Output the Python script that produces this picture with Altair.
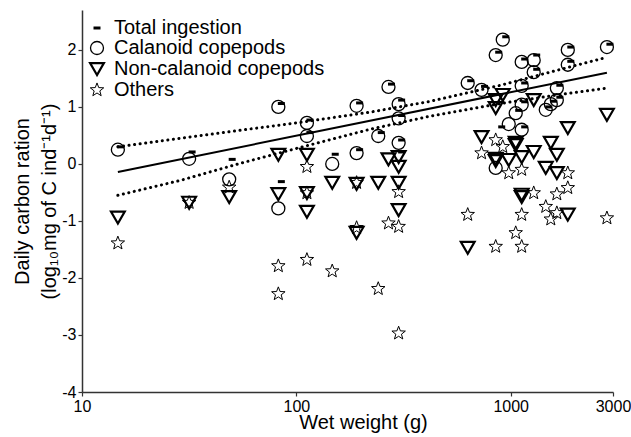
import altair as alt
import pandas as pd

# ---- data ----
groups = ["Total ingestion", "Calanoid copepods", "Non-calanoid copepods", "Others"]

tot_w = [14.7, 31.6, 48.6, 82.4, 82.4, 112, 112, 147, 191, 191, 241, 269, 300, 300, 300, 300, 630, 731, 879, 851,
         918, 1055, 1125, 1125, 1125, 1125, 1280, 1280, 1457, 1538, 1641, 1641, 1846, 1846, 2810]
tot_v = [0.30, 0.21, 0.08, 1.06, -0.31, 0.77, 0.55, 0.17, 1.07, 0.25, 0.55, 1.40, 1.12, 0.85, 0.42, 0.21, 1.46, 1.36, 0.65, 1.96,
         2.23, 0.94, 1.84, 1.42, 1.09, 0.65, 1.91, 1.66, 1.00, 1.10, 1.38, 1.17, 2.05, 1.80, 2.10]

cal_w = [14.7, 31.6, 48.6, 82.4, 82.4, 112, 112, 147, 191, 191, 241, 269, 300, 300, 300, 630, 731, 851, 851, 918,
         979, 1055, 1125, 1125, 1125, 1125, 1280, 1280, 1457, 1538, 1641, 1641, 1846, 1846, 2810]
cal_v = [0.25, 0.09, -0.27, 1.00, -0.78, 0.72, 0.49, 0.00, 1.02, 0.19, 0.49, 1.35, 1.05, 0.80, 0.37, 1.42, 1.30, 1.91, -0.07, 2.18,
         0.70, 0.89, 1.79, 1.37, 1.04, 0.60, 1.82, 1.61, 0.95, 1.05, 1.33, 1.12, 2.00, 1.74, 2.05]

non_w = [14.7, 31.6, 48.6, 82.4, 82.4, 112, 112, 112, 147, 191, 191, 241, 269, 300, 300, 300, 300, 630, 731, 851,
         851, 851, 851, 918, 979, 1055, 1055, 1125, 1125, 1125, 1280, 1280, 1457, 1538, 1641, 1641, 1846, 1846, 2810]
non_v = [-0.94, -0.68, -0.58, 0.16, -0.53, 0.16, -0.51, -0.84, -0.33, -0.35, -1.21, -0.33, 0.08, 0.12, -0.05, -0.33, -0.81, -1.47, 0.47, 1.12,
         0.98, 0.09, 0.05, 1.21, 0.07, 0.37, 0.33, 0.12, -0.54, -0.58, 1.12, 0.21, -0.07, 0.37, 0.16, -0.16, 0.63, -0.89, 0.86]

oth_w = [14.7, 31.6, 48.6, 82.4, 82.4, 112, 112, 112, 147, 191, 191, 241, 269, 300, 300, 300, 630, 731, 851, 851,
         918, 979, 1055, 1125, 1125, 1125, 1280, 1457, 1538, 1641, 1641, 1846, 1846, 2810]
oth_v = [-1.39, -0.68, -0.41, -1.79, -2.28, -0.05, -0.51, -1.68, -1.88, -0.33, -1.12, -2.19, -1.04, -0.49, -1.10, -2.97, -0.89, 0.19, 0.42, -1.45,
         0.30, -0.16, -1.21, -0.10, -0.89, -1.45, -0.51, -0.75, -0.97, -0.86, -0.53, -0.42, -0.16, -0.95]

fit_w = [14.7, 2810]
fit_v = [-0.14, 1.60]
band_w = [14.7, 28.7, 54.7, 104.5, 222, 423, 897, 1714, 2810]
band_hi = [0.30, 0.45, 0.59, 0.73, 0.91, 1.10, 1.38, 1.66, 1.87]
band_lo = [-0.55, -0.29, 0.01, 0.29, 0.61, 0.84, 1.06, 1.22, 1.33]

y_ticks = [-4, -3, -2, -1, 0, 1, 2]
x_ticks = [10, 100, 1000, 3000]

# ---- tables ----
pts = pd.concat([
    pd.DataFrame({"w": cal_w, "v": cal_v, "group": groups[1]}),
    pd.DataFrame({"w": non_w, "v": non_v, "group": groups[2]}),
    pd.DataFrame({"w": oth_w, "v": oth_v, "group": groups[3]}),
], ignore_index=True)
tot = pd.DataFrame({"w": tot_w, "v": tot_v, "group": groups[0]})
fit = pd.DataFrame({"w": fit_w, "v": fit_v})
band = pd.concat([
    pd.DataFrame({"w": band_w, "v": band_hi, "side": "upper"}),
    pd.DataFrame({"w": band_w, "v": band_lo, "side": "lower"}),
], ignore_index=True)

FONT = "Liberation Sans"
STAR = ("M0,-1L0.247,-0.34L0.951,-0.309L0.399,0.13L0.588,0.809L0,0.42L-0.588,0.809"
        "L-0.399,0.13L-0.951,-0.309L-0.247,-0.34Z")
shape_range = ["stroke", "circle", "triangle-down", STAR]
size_range = [49, 169, 190, 200]
sw_range = [3, 1.3, 2.2, 1.0]

xscale = alt.Scale(type="log", domain=[10, 3000], nice=False)
yscale = alt.Scale(domain=[-4, 2.7], nice=False, zero=False)

xenc = alt.X("w:Q", scale=xscale, axis=alt.Axis(
    values=x_ticks, labelExpr="'' + datum.value", title="Wet weight (g)",
    labelFlush=False, labelOverlap=False, titleX=281, titleY=30, titleBaseline="middle"))
yenc = alt.Y("v:Q", scale=yscale, axis=alt.Axis(
    values=y_ticks, labelExpr="'' + datum.value",
    title=["Daily carbon ration", "(log\u2081\u2080mg of C ind\u207b\u00b9d\u207b\u00b9)"],
    titlePadding=2, titleLineHeight=27))

legend = alt.Legend(title=None, orient="none", legendX=5, legendY=8,
                    labelFont=FONT, labelFontSize=20, labelColor="black", labelLimit=400,
                    rowPadding=0, labelOffset=7, padding=0, symbolStrokeColor="black")
shape_enc = alt.Shape("group:N", scale=alt.Scale(domain=groups, range=shape_range), legend=legend)
size_enc = alt.Size("group:N", scale=alt.Scale(type="ordinal", domain=groups, range=size_range), legend=legend)
sw_enc = alt.StrokeWidth("group:N", scale=alt.Scale(type="ordinal", domain=groups, range=sw_range), legend=legend)

points = alt.Chart(pts).mark_point(filled=False, color="black", opacity=1).encode(
    x=xenc, y=yenc, shape=shape_enc, size=size_enc, strokeWidth=sw_enc)
dashes = alt.Chart(tot).mark_point(filled=False, color="black", opacity=1, xOffset=3).encode(
    x=xenc, y=yenc, shape=shape_enc, size=size_enc, strokeWidth=sw_enc)

fit_line = alt.Chart(fit).mark_line(color="black", strokeWidth=2).encode(x=xenc, y=yenc)
band_lines = alt.Chart(band).mark_line(color="black", strokeWidth=3, strokeDash=[0.1, 5.5],
                                       strokeCap="round").encode(x=xenc, y=yenc, detail="side:N")

chart = alt.layer(fit_line, band_lines, dashes, points).properties(
    width=531, height=382,
    autosize=alt.AutoSizeParams(type="none"),
    padding={"left": 82, "top": 10, "right": 18, "bottom": 45},
    background="white",
).configure_view(stroke=None).configure_axis(
    grid=False, domainColor="#333", domainWidth=1.5, tickColor="#333", tickSize=4, tickWidth=1.2,
    labelFont=FONT, labelFontSize=16, labelColor="black", labelPadding=2,
    titleFont=FONT, titleFontSize=20, titleFontWeight="normal", titleColor="black",
)

chart.save("out.html", embed_options={"renderer": "svg", "actions": False})
